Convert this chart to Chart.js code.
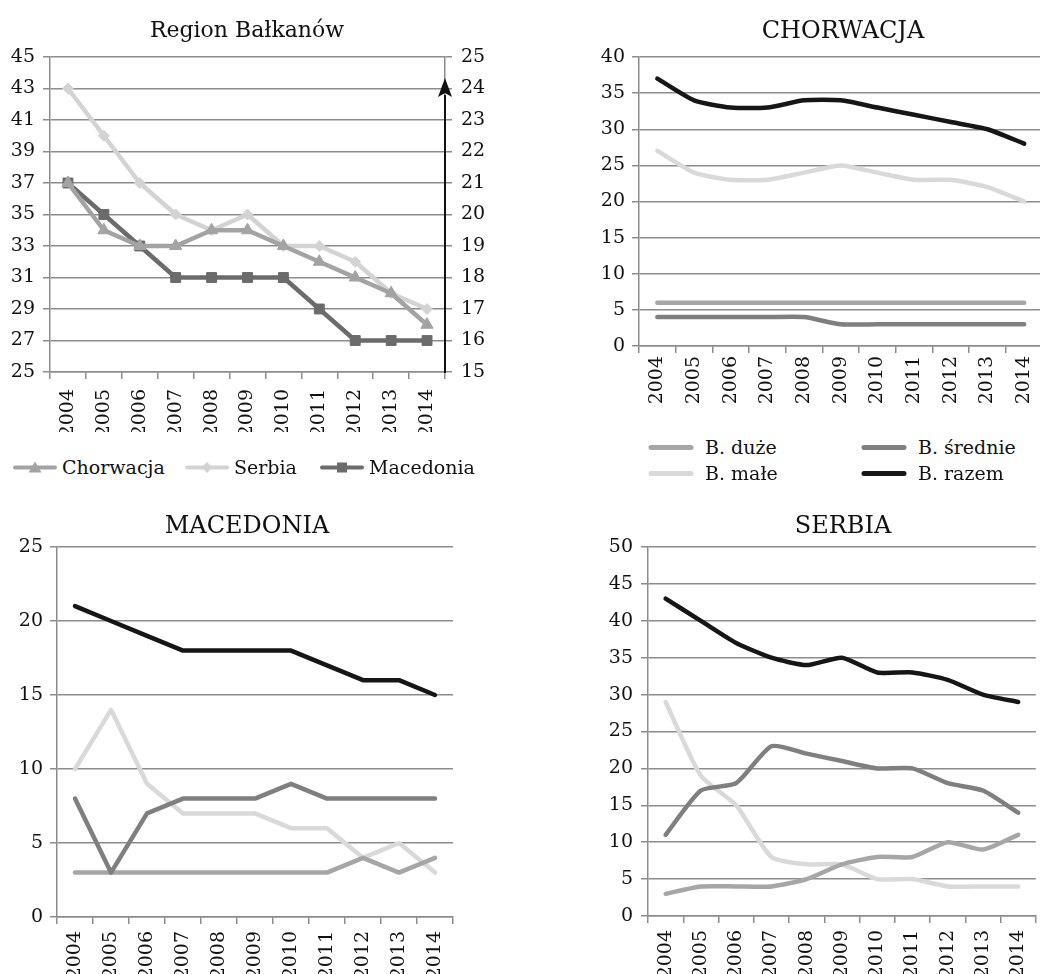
<!DOCTYPE html>
<html>
<head>
<meta charset="utf-8">
<script src="https://cdn.jsdelivr.net/npm/chart.js@4.4.0/dist/chart.umd.min.js"></script>
<style>
html, body { margin: 0; padding: 0; background: #fff; width: 1040px; height: 974px; overflow: hidden; }
body { position: relative; font-family: "DejaVu Serif", serif; color: #111; }
canvas { position: absolute; }
.title { position: absolute; white-space: nowrap; line-height: 1; transform: translate(-50%, -50%); }
.leg { position: absolute; display: flex; align-items: center; white-space: nowrap; font-size: 19px; line-height: 1; transform: translateY(-50%); }
.leg svg { margin-right: 5px; }
</style>
</head>
<body>

<canvas id="region" width="520" height="440" style="left:0;top:0"></canvas>
<canvas id="chorwacja" width="530" height="420" style="left:520px;top:0"></canvas>
<canvas id="macedonia" width="520" height="494" style="left:0;top:480px"></canvas>
<canvas id="serbia" width="528" height="494" style="left:520px;top:480px"></canvas>

<div class="title" style="left:247px;top:30px;font-size:22px">Region Bałkanów</div>
<div class="title" style="left:843px;top:30px;font-size:24px">CHORWACJA</div>
<div class="title" style="left:247px;top:525px;font-size:24px">MACEDONIA</div>
<div class="title" style="left:843px;top:525px;font-size:24px">SERBIA</div>

<div id="legend1"></div>
<div id="legend2"></div>

<script>
const years = ['2004', '2005', '2006', '2007', '2008', '2009', '2010', '2011', '2012', '2013', '2014'];

// Region Bałkanów (Macedonia na prawej osi)
const regionChorwacja = [37, 34, 33, 33, 34, 34, 33, 32, 31, 30, 28];
const regionSerbia = [43, 40, 37, 35, 34, 35, 33, 33, 32, 30, 29];
const regionMacedonia = [21, 20, 19, 18, 18, 18, 18, 17, 16, 16, 16];

// CHORWACJA
const chorDuze = [6, 6, 6, 6, 6, 6, 6, 6, 6, 6, 6];
const chorSrednie = [4, 4, 4, 4, 4, 3, 3, 3, 3, 3, 3];
const chorMale = [27, 24, 23, 23, 24, 25, 24, 23, 23, 22, 20];
const chorRazem = [37, 34, 33, 33, 34, 34, 33, 32, 31, 30, 28];

// MACEDONIA
const macDuze = [3, 3, 3, 3, 3, 3, 3, 3, 4, 3, 4];
const macSrednie = [8, 3, 7, 8, 8, 8, 9, 8, 8, 8, 8];
const macMale = [10, 14, 9, 7, 7, 7, 6, 6, 4, 5, 3];
const macRazem = [21, 20, 19, 18, 18, 18, 18, 17, 16, 16, 15];

// SERBIA
const serDuze = [3, 4, 4, 4, 5, 7, 8, 8, 10, 9, 11];
const serSrednie = [11, 17, 18, 23, 22, 21, 20, 20, 18, 17, 14];
const serMale = [29, 19, 15, 8, 7, 7, 5, 5, 4, 4, 4];
const serRazem = [43, 40, 37, 35, 34, 35, 33, 33, 32, 30, 29];

const regionLabels = ['Chorwacja', 'Serbia', 'Macedonia'];
const sizeLabels = ['B. duże', 'B. średnie', 'B. małe', 'B. razem'];

const gridColor = '#8c8c8c';
const regionColors = ['#a3a3a3', '#d3d3d3', '#6b6b6b'];
const regionMarkers = ['triangle', 'rectRot', 'rect'];
const sizeColors = ['#a6a6a6', '#7f7f7f', '#d9d9d9', '#161616'];

Chart.defaults.font.family = '"DejaVu Serif", serif';
Chart.defaults.font.size = 19;
Chart.defaults.color = '#111';
Chart.defaults.animation = false;
Chart.defaults.plugins.legend.display = false;
Chart.defaults.plugins.tooltip.enabled = false;

function lineSet(label, data, color, extra) {
	return Object.assign({
		label: label,
		data: data,
		borderColor: color,
		backgroundColor: color,
		borderWidth: 4.5,
		pointRadius: 0,
		borderCapStyle: 'round',
		borderJoinStyle: 'round'
	}, extra || {});
}

function xAxis(pad, h) {
	return {
		offset: true,
		grid: { offset: true, drawOnChartArea: false, color: gridColor, lineWidth: 1.5, tickLength: 7 },
		border: { color: gridColor, width: 1.5 },
		ticks: { minRotation: 90, maxRotation: 90, autoSkip: false, padding: pad },
		afterFit: function (s) { s.height = h; }
	};
}

function yAxis(min, max, step, w, pad, pos) {
	return {
		position: pos || 'left',
		min: min,
		max: max,
		ticks: { stepSize: step, padding: pad },
		grid: { color: gridColor, lineWidth: 1.5, tickLength: 7 },
		border: { color: gridColor, width: 1.5 },
		afterFit: function (s) { s.width = w; }
	};
}

// black arrow on the right axis of the first chart
const axisArrow = {
	id: 'axisArrow',
	afterDraw(chart) {
		const s = chart.scales.y2;
		if (!s) return;
		const ctx = chart.ctx;
		const x = chart.chartArea.right;
		const tip = s.getPixelForValue(24.33);
		const base = tip + 19;
		ctx.save();
		ctx.strokeStyle = '#111';
		ctx.fillStyle = '#111';
		ctx.lineWidth = 2;
		ctx.beginPath();
		ctx.moveTo(x, chart.chartArea.bottom + 1);
		ctx.lineTo(x, base - 2);
		ctx.stroke();
		ctx.beginPath();
		ctx.moveTo(x, tip);
		ctx.lineTo(x - 7, base);
		ctx.lineTo(x, base - 4);
		ctx.lineTo(x + 7, base);
		ctx.closePath();
		ctx.fill();
		ctx.restore();
	}
};

// Region Bałkanów
const regionData = [regionChorwacja, regionSerbia, regionMacedonia];
new Chart(document.getElementById('region'), {
	type: 'line',
	data: {
		labels: years,
		datasets: regionData.map((d, i) => lineSet(regionLabels[i], d, regionColors[i], {
			yAxisID: i === 2 ? 'y2' : 'y',
			pointStyle: regionMarkers[i],
			pointRadius: i === 1 ? 5.5 : 7,
			pointBorderWidth: 1,
			tension: 0
		}))
	},
	options: {
		responsive: false,
		layout: { padding: { top: 57, bottom: 8, left: 0, right: 0 } },
		scales: {
			x: xAxis(10, 60),
			y: yAxis(25, 45, 2, 50, 8),
			y2: Object.assign(yAxis(15, 25, 1, 75, 9, 'right'), {
				grid: { drawOnChartArea: false, color: gridColor, lineWidth: 1.5, tickLength: 7 }
			})
		}
	},
	plugins: [axisArrow]
});

function sizeChart(id, series, yMin, yMax, yW, yPad, xPad, xH, pad, tension) {
	// draw order: razem on top, małe at the bottom
	const order = [3, 1, 0, 2];
	return new Chart(document.getElementById(id), {
		type: 'line',
		data: {
			labels: years,
			datasets: order.map(i => lineSet(sizeLabels[i], series[i], sizeColors[i], { tension: tension }))
		},
		options: {
			responsive: false,
			layout: { padding: pad },
			scales: {
				x: xAxis(xPad, xH),
				y: yAxis(yMin, yMax, 5, yW, yPad)
			}
		}
	});
}

sizeChart('chorwacja', [chorDuze, chorSrednie, chorMale, chorRazem], 0, 40, 119, 7, 3, 60,
	{ top: 57, bottom: 14, left: 0, right: 0 }, 0.2);
sizeChart('macedonia', [macDuze, macSrednie, macMale, macRazem], 0, 25, 57, 7, 7, 57,
	{ top: 67, bottom: 0, left: 0, right: 67 }, 0);
sizeChart('serbia', [serDuze, serSrednie, serMale, serRazem], 0, 50, 128, 8, 7, 58,
	{ top: 67, bottom: 0, left: 0, right: 0 }, 0.2);

// legends
function markerSvg(color, style) {
	let m = '';
	if (style === 'triangle') m = '<polygon points="22,1 28.5,12 15.5,12" fill="' + color + '"/>';
	if (style === 'rectRot') m = '<polygon points="22,1.5 27.5,7 22,12.5 16.5,7" fill="' + color + '"/>';
	if (style === 'rect') m = '<rect x="17" y="2" width="10" height="10" fill="' + color + '"/>';
	return '<svg width="44" height="14"><line x1="2" y1="7" x2="42" y2="7" stroke="' + color +
		'" stroke-width="4" stroke-linecap="round"/>' + m + '</svg>';
}

function lineSvg(color) {
	return '<svg width="46" height="8"><line x1="3" y1="4" x2="43" y2="4" stroke="' + color +
		'" stroke-width="5" stroke-linecap="round"/></svg>';
}

const legend1Pos = [13, 185, 320];
document.getElementById('legend1').innerHTML = regionLabels.map((l, i) =>
	'<div class="leg" style="left:' + legend1Pos[i] + 'px;top:467px">' + markerSvg(regionColors[i], regionMarkers[i]) + l + '</div>'
).join('');

const legend2Pos = [[648, 447], [861, 447], [648, 473], [861, 473]];
document.getElementById('legend2').innerHTML = sizeLabels.map((l, i) =>
	'<div class="leg" style="left:' + legend2Pos[i][0] + 'px;top:' + legend2Pos[i][1] + 'px">' + lineSvg(sizeColors[i]) +
	'<span style="margin-left:6px">' + l + '</span></div>'
).join('');
</script>
</body>
</html>
